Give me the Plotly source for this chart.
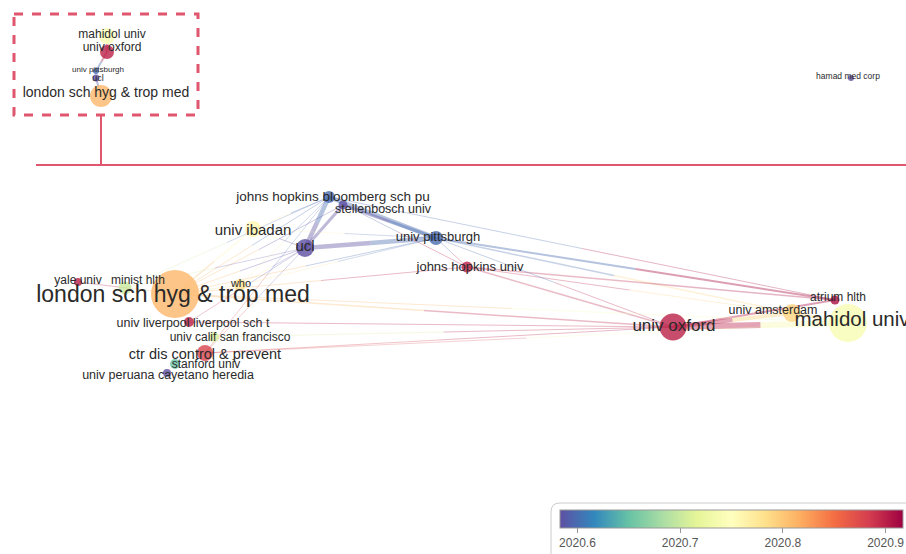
import plotly.graph_objects as go
from plotly.colors import sample_colorscale

# ---------------- data ----------------
node_ids = ["london", "oxford", "mahidol", "amsterdam", "atrium", "jhu", "pittsburgh",
            "bloomberg", "stellenbosch", "ibadan", "ucl", "who", "yale", "minist",
            "liverpool", "calif", "ctr", "stanford", "peruana", "hamad",
            "i_mahidol", "i_oxford", "i_pittsburgh", "i_ucl", "i_london"]
node_labels = ["london sch hyg & trop med", "univ oxford", "mahidol univ", "univ amsterdam",
               "atrium hlth", "johns hopkins univ", "univ pittsburgh",
               "johns hopkins bloomberg sch pu", "stellenbosch univ", "univ ibadan", "ucl",
               "who", "yale univ", "minist hlth", "univ liverpool liverpool sch t",
               "univ calif san francisco", "ctr dis control & prevent", "stanford univ",
               "univ peruana cayetano heredia", "hamad med corp",
               "mahidol univ", "univ oxford", "univ pittsburgh", "ucl",
               "london sch hyg & trop med"]
node_x = [175, 673, 848, 792, 835, 467, 436, 329, 343, 253, 305, 240, 78, 125,
          189, 214, 205, 175, 167, 851, 107, 107, 96, 96, 101]
node_y = [294, 327, 323, 313, 300, 267, 238, 197, 205, 229, 248, 285, 282, 288,
          322, 337, 353, 364, 373, 78, 36, 52, 71, 78, 96]
node_size = [48, 27, 38, 18, 9, 11, 14, 12, 9, 16, 18, 12, 8, 13,
             10, 10, 16, 10, 8, 6, 16, 14, 6, 7, 22]
node_year = [2020.81, 2020.90, 2020.74, 2020.79, 2020.91, 2020.90, 2020.60, 2020.60,
             2020.57, 2020.76, 2020.57, 2020.78, 2020.90, 2020.70, 2020.90, 2020.71,
             2020.88, 2020.65, 2020.58, 2020.57, 2020.74, 2020.90, 2020.60, 2020.57,
             2020.81]
label_x = [173, 674, 852, 773, 838, 470, 438, 333, 383, 253, 305, 241, 78, 138,
           193, 230, 205, 206, 168, 848, 112, 112, 98, 98, 106]
label_y = [296, 327, 321, 311, 298, 268, 238, 198, 210, 231, 247, 284, 281, 281,
           324, 338, 355, 365, 376, 77, 35, 48, 70, 79, 93]
label_size = [23, 17, 20.5, 12.5, 12, 13, 13, 13.5, 12.5, 15, 15, 11, 12, 12,
              12.5, 12, 14.5, 12, 12.5, 8.5, 12, 12, 8, 9, 14]

edges = [("ucl", "bloomberg", 4.5), ("ucl", "stellenbosch", 3), ("ucl", "pittsburgh", 4.5),
         ("bloomberg", "pittsburgh", 4.5), ("stellenbosch", "pittsburgh", 3),
         ("pittsburgh", "atrium", 2), ("pittsburgh", "amsterdam", 1.5),
         ("bloomberg", "atrium", 1), ("pittsburgh", "jhu", 1), ("bloomberg", "jhu", 1),
         ("jhu", "atrium", 1.5), ("jhu", "amsterdam", 1), ("jhu", "oxford", 1.5),
         ("pittsburgh", "oxford", 1), ("oxford", "mahidol", 6), ("oxford", "amsterdam", 4),
         ("oxford", "atrium", 2), ("amsterdam", "mahidol", 3), ("london", "oxford", 1.5),
         ("london", "mahidol", 1), ("liverpool", "oxford", 1), ("calif", "oxford", 1),
         ("ctr", "oxford", 1), ("ctr", "mahidol", 0.8), ("london", "ucl", 1),
         ("london", "bloomberg", 1), ("london", "ibadan", 1.5), ("london", "who", 1),
         ("london", "pittsburgh", 1), ("london", "stellenbosch", 1), ("london", "jhu", 1),
         ("minist", "ucl", 0.8), ("yale", "london", 1), ("ibadan", "ucl", 1),
         ("ibadan", "bloomberg", 1), ("who", "bloomberg", 0.8), ("who", "ucl", 0.8),
         ("liverpool", "ucl", 0.8), ("ctr", "ucl", 0.8), ("ctr", "bloomberg", 0.8),
         ("minist", "bloomberg", 0.8), ("ibadan", "pittsburgh", 0.8),
         ("who", "pittsburgh", 0.8),
         ("i_mahidol", "i_oxford", 3), ("i_oxford", "i_pittsburgh", 2),
         ("i_ucl", "i_london", 2), ("i_pittsburgh", "i_ucl", 1)]

cb_ticks = [2020.6, 2020.7, 2020.8, 2020.9]
cb_ticktext = ["2020.6", "2020.7", "2020.8", "2020.9"]
year_min, year_max = 2020.583, 2020.917

# ---------------- figure ----------------
scale = [[0.0, "rgb(94,79,162)"], [0.1, "rgb(50,136,189)"], [0.2, "rgb(102,194,165)"],
         [0.3, "rgb(171,221,164)"], [0.4, "rgb(230,245,152)"], [0.5, "rgb(255,255,191)"],
         [0.6, "rgb(254,224,139)"], [0.7, "rgb(253,174,97)"], [0.8, "rgb(244,109,67)"],
         [0.9, "rgb(213,62,79)"], [1.0, "rgb(158,1,66)"]]


def year_color(yr):
    t = min(max((yr - year_min) / (year_max - year_min), 0), 1)
    return sample_colorscale(scale, [t])[0]


idx = {n: i for i, n in enumerate(node_ids)}
fig = go.Figure()

# each link drawn as two halves, each tinted like its own end node (gradient look)
for a, b, w in edges:
    ia, ib = idx[a], idx[b]
    mx = (node_x[ia] + node_x[ib]) / 2
    my = (node_y[ia] + node_y[ib]) / 2
    for i in (ia, ib):
        fig.add_trace(go.Scatter(
            x=[node_x[i], mx], y=[node_y[i], my], mode="lines",
            line=dict(color=year_color(node_year[i]), width=w),
            opacity=0.4 if w >= 2 else 0.3, hoverinfo="skip", showlegend=False))

fig.add_trace(go.Scatter(
    x=node_x, y=node_y, mode="markers", hoverinfo="skip", showlegend=False,
    marker=dict(size=node_size, color=node_year, colorscale=scale, cmin=year_min,
                cmax=year_max, opacity=0.8, line=dict(width=0), showscale=True,
                colorbar=dict(orientation="h", x=(560 + 903) / 2 / 906, xanchor="center",
                              y=(554 - 510) / 554, yanchor="top", lenmode="pixels",
                              len=343, thickness=18, xpad=0, ypad=0, outlinewidth=1,
                              outlinecolor="#999", tickvals=cb_ticks, ticktext=cb_ticktext,
                              ticks="outside", ticklen=5, tickcolor="#999",
                              tickfont=dict(size=12, color="#555",
                                            family="Liberation Sans, Arial")))))

fig.add_trace(go.Scatter(
    x=label_x, y=label_y, mode="text", text=node_labels, textposition="middle center",
    textfont=dict(size=label_size, color="#2a2a2a", family="Liberation Sans, Arial"),
    hoverinfo="skip", showlegend=False))

pink = "#E0566F"
fig.add_shape(type="rect", x0=14, y0=14, x1=198, y1=115,
              line=dict(color=pink, width=3, dash="dash"))
fig.add_shape(type="line", x0=101, y0=115, x1=101, y1=165, line=dict(color=pink, width=2))
fig.add_shape(type="line", x0=36, y0=165, x1=906, y1=165, line=dict(color=pink, width=2))
fig.add_shape(type="path",
              path="M 551,560 L 551,512 Q 551,503 560,503 L 920,503 L 920,560 Z",
              line=dict(color="#ccc", width=1))

fig.update_layout(
    width=906, height=554, margin=dict(l=0, r=0, t=0, b=0),
    paper_bgcolor="white", plot_bgcolor="white",
    xaxis=dict(range=[0, 906], visible=False, fixedrange=True),
    yaxis=dict(range=[554, 0], visible=False, fixedrange=True),
)
fig.write_html("out.html", config={"displayModeBar": False},
               post_script="document.body.style.margin='0px';"
                           "document.body.style.overflow='hidden';")
